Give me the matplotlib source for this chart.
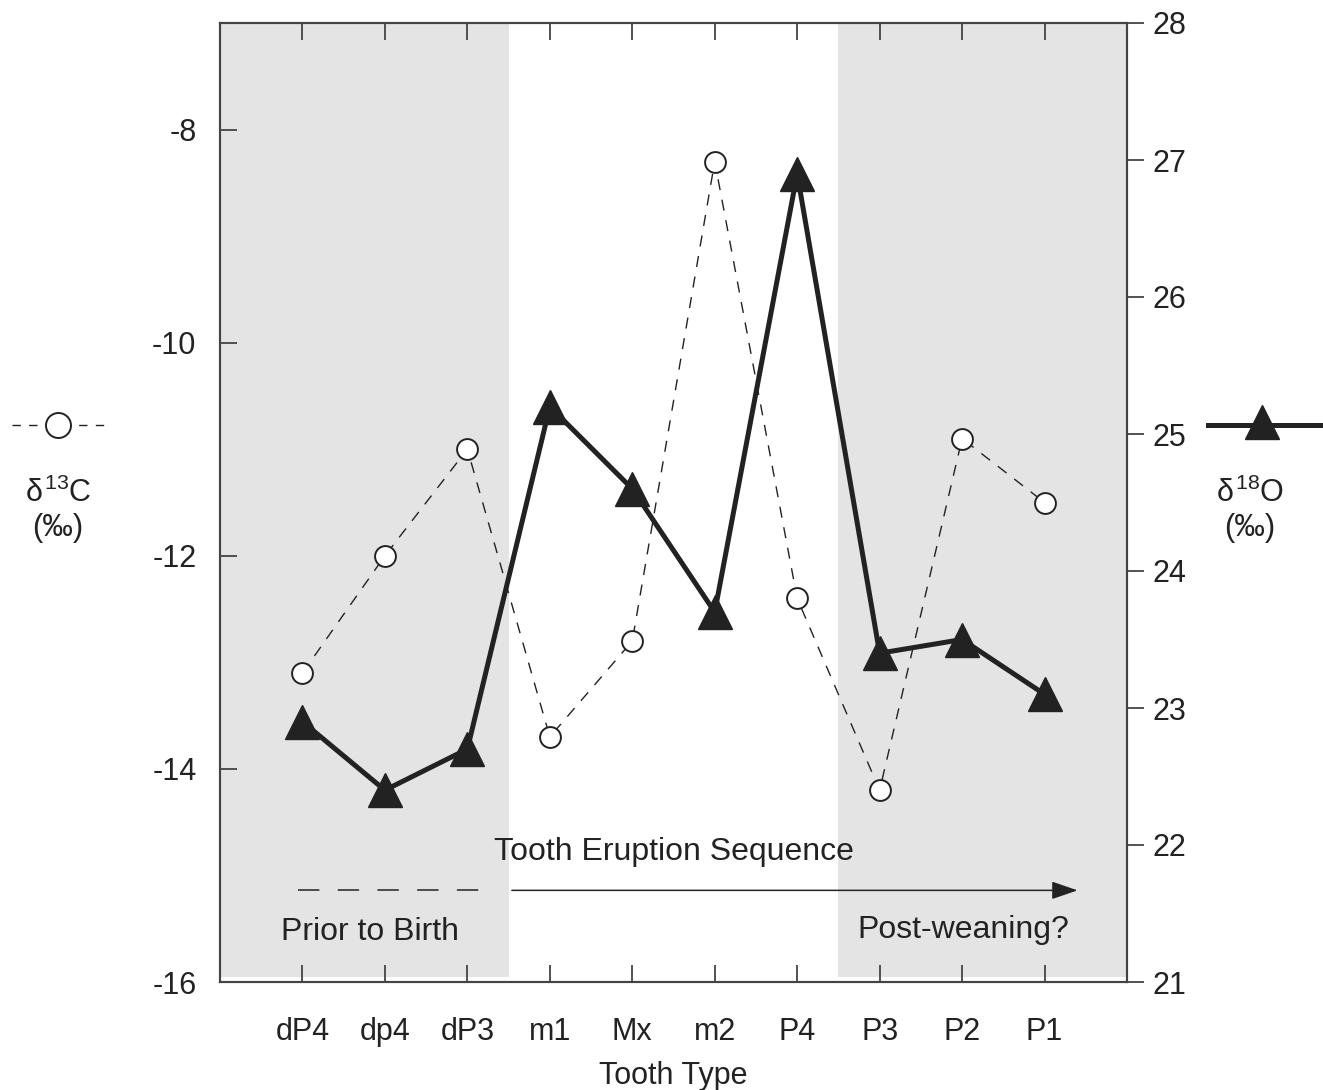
import matplotlib
matplotlib.use("Agg")
import matplotlib.pyplot as plt
from matplotlib.lines import Line2D

plt.rcParams['font.family'] = ['Liberation Sans', 'DejaVu Sans']
plt.rcParams['mathtext.fontset'] = 'custom'
plt.rcParams['mathtext.rm'] = 'Liberation Sans'
plt.rcParams['mathtext.it'] = 'Liberation Sans'
plt.rcParams['mathtext.bf'] = 'Liberation Sans'

teeth = ["dP4", "dp4", "dP3", "m1", "Mx", "m2", "P4", "P3", "P2", "P1"]
d13C = [-13.1, -12.0, -11.0, -13.7, -12.8, -8.3, -12.4, -14.2, -10.9, -11.5]
d18O = [22.9, 22.4, 22.7, 25.2, 24.6, 23.7, 26.9, 23.4, 23.5, 23.1]
left_ticks = [-16, -14, -12, -10, -8]
right_ticks = [21, 22, 23, 24, 25, 26, 27, 28]

dark = "#222222"
spine_c = "#444444"
shade = "#e4e4e4"
fs = 22

fig = plt.figure(figsize=(13.23, 10.90), dpi=100)
ax = fig.add_axes([220/1323, 1 - 982/1090, (1127-220)/1323, (982-23)/1090])
x = list(range(1, len(teeth) + 1))

ax.set_xlim(0, 11)
ax.set_ylim(-16, -7)
ax.axvspan(0, 3.5, ymin=0.005, ymax=1, color=shade, lw=0, zorder=0)
ax.axvspan(7.5, 11, ymin=0.005, ymax=1, color=shade, lw=0, zorder=0)

ax.plot(x, d13C, color=dark, lw=1.0, dashes=(8, 7), zorder=2)
ax.plot(x, d13C, ls='none', marker='o', ms=15, mfc='white', mec=dark, mew=1.4, zorder=3)

ax.set_xticks(x)
ax.set_xticklabels(teeth, fontsize=fs, color=dark)
ax.set_yticks(left_ticks)
ax.set_yticklabels([str(t) for t in left_ticks], fontsize=fs, color=dark)
ax.tick_params(axis='x', which='both', direction='in', top=True, bottom=True,
               length=12, width=1.3, color=spine_c, pad=25)
ax.tick_params(axis='y', direction='in', left=True, right=False,
               length=12, width=1.3, color=spine_c, pad=17)
ax.set_xlabel("Tooth Type", fontsize=fs, color=dark, labelpad=10)
for s in ax.spines.values():
    s.set_color(spine_c)
    s.set_linewidth(1.5)

# arrow and annotations
ax.plot([0.94, 3.3], [-15.14, -15.14], color=dark, lw=1.1, dashes=(14, 12), zorder=2)
ax.annotate("", xy=(10.4, -15.14), xytext=(3.54, -15.14),
            arrowprops=dict(arrowstyle='-|>,head_length=1.6,head_width=0.55',
                            color=dark, lw=1.1, shrinkA=0, shrinkB=0), zorder=2)
ax.text(5.51, -14.78, "Tooth Eruption Sequence", fontsize=fs + 1, color=dark,
        ha='center', va='center')
ax.text(1.82, -15.53, "Prior to Birth", fontsize=fs + 1, color=dark,
        ha='center', va='center')
ax.text(9.01, -15.51, "Post-weaning?", fontsize=fs + 1, color=dark,
        ha='center', va='center')

ax2 = ax.twinx()
ax2.set_ylim(21, 28)
ax2.plot(x, d18O, color=dark, lw=3.6, zorder=4)
ax2.plot(x, d18O, ls='none', marker='^', ms=24, mfc=dark, mec=dark, zorder=5)
ax2.set_yticks(right_ticks)
ax2.set_yticklabels([str(t) for t in right_ticks], fontsize=fs, color=dark)
ax2.tick_params(axis='y', direction='out', length=12, width=1.3, color=spine_c, pad=6)
for s in ax2.spines.values():
    s.set_color(spine_c)
    s.set_linewidth(1.5)

# side legends
W, H = 1323, 1090
def fx(px): return px / W
def fy(py): return 1 - py / H

fig.add_artist(Line2D([fx(12), fx(105)], [fy(425), fy(425)], color=dark, lw=1.0,
                      dashes=(6, 6), transform=fig.transFigure))
fig.add_artist(Line2D([fx(58)], [fy(425)], ls='none', marker='o', ms=18, mfc='white',
                      mec=dark, mew=1.4, transform=fig.transFigure))
fig.text(fx(58), fy(493), r"$\delta^{13}$C", fontsize=fs, color=dark, ha='center', va='center')
fig.text(fx(58), fy(528), "(‰)", fontsize=fs, color=dark, ha='center', va='center')

fig.add_artist(Line2D([fx(1208), fx(1323)], [fy(425), fy(425)], color=dark, lw=3.6,
                      transform=fig.transFigure))
fig.add_artist(Line2D([fx(1262)], [fy(422)], ls='none', marker='^', ms=24, mfc=dark,
                      mec=dark, transform=fig.transFigure))
fig.text(fx(1250), fy(493), r"$\delta^{18}$O", fontsize=fs, color=dark, ha='center', va='center')
fig.text(fx(1250), fy(528), "(‰)", fontsize=fs, color=dark, ha='center', va='center')

fig.savefig("out.png", dpi=100, facecolor='white')
